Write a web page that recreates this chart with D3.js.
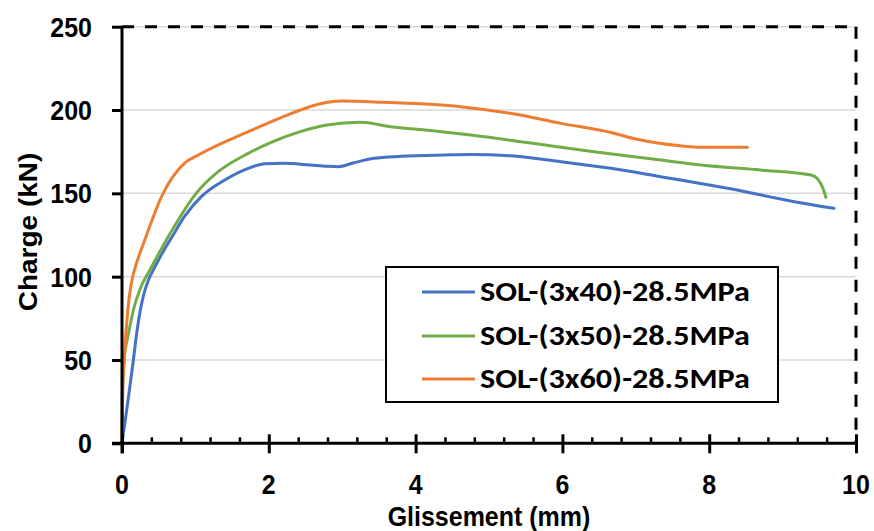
<!DOCTYPE html>
<html>
<head>
<meta charset="utf-8">
<script src="https://cdn.jsdelivr.net/npm/d3@7"></script>
<style>
  html, body { margin: 0; padding: 0; background: #fff; }
  svg { display: block; }
</style>
</head>
<body>
<div id="chart"></div>
<script>
// ---- data ----
const seriesNames = ["SOL-(3x40)-28.5MPa", "SOL-(3x50)-28.5MPa", "SOL-(3x60)-28.5MPa"];

const blueX = [0, 0.08, 0.155, 0.2, 0.25, 0.3, 0.36, 0.45, 0.56, 0.67, 0.85, 1.08, 1.4, 1.72, 1.95, 2.2, 2.56, 2.8, 2.95, 3.15, 3.43, 3.8, 4.4, 4.75, 5.29, 5.98, 6.66, 7.34, 7.61, 8.25, 9.16, 9.7];
const blueY = [0, 25, 50, 66, 80, 90, 98, 106, 115, 123, 136, 148, 158, 165, 167.8, 168, 167, 166.2, 166, 168.2, 171, 172.2, 173, 173.3, 172.5, 169, 165, 160, 158, 153, 145, 141];

const greenX = [0, 0.005, 0.03, 0.09, 0.155, 0.25, 0.38, 0.63, 1.01, 1.31, 1.72, 2.0, 2.43, 2.79, 3.25, 3.66, 4.2, 4.75, 5.52, 6.43, 7.34, 7.89, 8.7, 9.39, 9.48, 9.55, 9.59];
const greenY = [0, 30, 50, 66, 80, 93, 104, 124, 150, 163, 174, 180, 187, 191, 192.6, 190, 187.7, 185, 180.5, 175, 170, 167, 164, 161, 158.5, 153, 147.6];

const orangeX = [0, 0.01, 0.03, 0.08, 0.146, 0.17, 0.31, 0.56, 0.85, 1.04, 1.72, 2.2, 2.43, 2.6, 2.8, 3.0, 3.56, 4.61, 5.29, 5.98, 6.66, 7.0, 7.3, 7.61, 7.9, 8.52];
const orangeY = [0, 30, 50, 80, 100, 104, 122, 150, 168, 173, 187, 196, 200, 202.6, 204.6, 205.4, 204.6, 202, 198, 192, 186.5, 182.6, 180.2, 178.5, 177.7, 177.7];

const xTicks = [0, 2, 4, 6, 8, 10];
const yTicks = [0, 50, 100, 150, 200, 250];
const xTitle = "Glissement (mm)";
const yTitle = "Charge (kN)";

const colors = ["#4472C4", "#70AD47", "#ED7D31"];

// ---- layout ----
const W = 874, H = 531;
const mLeft = 122, mRight = 856, mTop = 26.7, mBottom = 443.3;
const stretch = 1.12;

const svg = d3.select("#chart").append("svg").attr("width", W).attr("height", H);

const x = d3.scaleLinear().domain([0, 10]).range([mLeft, mRight]);
const y = d3.scaleLinear().domain([0, 250]).range([mBottom, mTop]);

// gridlines
svg.append("g").selectAll("line").data(yTicks.filter(d => d > 0)).join("line")
  .attr("x1", mLeft).attr("x2", mRight)
  .attr("y1", d => y(d)).attr("y2", d => y(d))
  .attr("stroke", "#d9d9d9").attr("stroke-width", 1.5);

// dashed frame (top and right)
svg.append("line").attr("x1", mLeft).attr("x2", mRight).attr("y1", y(250)).attr("y2", y(250))
  .attr("stroke", "#000").attr("stroke-width", 3).attr("stroke-dasharray", "12,11");
svg.append("line").attr("x1", mRight).attr("x2", mRight).attr("y1", y(250)).attr("y2", y(0))
  .attr("stroke", "#000").attr("stroke-width", 3).attr("stroke-dasharray", "12,11");

// series
const series = [
  { xs: blueX, ys: blueY },
  { xs: greenX, ys: greenY },
  { xs: orangeX, ys: orangeY }
];
const line = d3.line().x(d => x(d[0])).y(d => y(d[1])).curve(d3.curveMonotoneX);
series.forEach((s, i) => {
  const pts = s.xs.map((v, k) => [v, s.ys[k]]);
  svg.append("path").datum(pts).attr("d", line)
    .attr("fill", "none").attr("stroke", colors[i]).attr("stroke-width", 3)
    .attr("stroke-linejoin", "round").attr("stroke-linecap", "round");
});

// y axis
const yAxis = d3.axisLeft(y).tickValues(yTicks).tickSize(10).tickFormat("");
const gy = svg.append("g").attr("transform", `translate(${mLeft},0)`).call(yAxis);
gy.select(".domain").attr("stroke", "#000").attr("stroke-width", 3).attr("d", `M0,${y(250)}V${y(0) + 10}`);
gy.selectAll(".tick line").attr("stroke", "#000").attr("stroke-width", 3);

// x axis: minor ticks (inward) and major ticks (crossing)
const minorTicks = d3.range(0, 10.001, 0.4).filter(v => Math.abs(v / 2 - Math.round(v / 2)) > 1e-6);
const xAxisMinor = d3.axisTop(x).tickValues(minorTicks).tickSize(6).tickFormat("");
const gxm = svg.append("g").attr("transform", `translate(0,${mBottom})`).call(xAxisMinor);
gxm.select(".domain").remove();
gxm.selectAll(".tick line").attr("stroke", "#000").attr("stroke-width", 2.5);

const xAxis = d3.axisBottom(x).tickValues(xTicks).tickSize(10).tickFormat("");
const gx = svg.append("g").attr("transform", `translate(0,${mBottom})`).call(xAxis);
gx.select(".domain").attr("stroke", "#000").attr("stroke-width", 3).attr("d", `M${mLeft - 10},0H${mRight}`);
gx.selectAll(".tick line").attr("stroke", "#000").attr("stroke-width", 3).attr("y1", -9);

// tick labels
const tickFont = "'Liberation Sans', Arial, sans-serif";
svg.append("g").selectAll("text").data(yTicks).join("text")
  .attr("transform", d => `translate(${92},${y(d) + 10}) scale(1,${stretch})`)
  .attr("text-anchor", "end").attr("font-family", tickFont).attr("font-weight", "bold")
  .attr("font-size", 25).attr("fill", "#000").text(d => d);
svg.append("g").selectAll("text").data(xTicks).join("text")
  .attr("transform", d => `translate(${x(d)},${494}) scale(1,${stretch})`)
  .attr("text-anchor", "middle").attr("font-family", tickFont).attr("font-weight", "bold")
  .attr("font-size", 25).attr("fill", "#000").text(d => d);

// axis titles
svg.append("text")
  .attr("transform", `translate(${(mLeft + mRight) / 2},${526}) scale(1,${stretch})`)
  .attr("text-anchor", "middle").attr("font-family", tickFont).attr("font-weight", "bold")
  .attr("font-size", 25).attr("fill", "#000").text(xTitle);
svg.append("text")
  .attr("transform", `translate(${37},${232}) rotate(-90) scale(${stretch},1)`)
  .attr("text-anchor", "middle").attr("font-family", tickFont).attr("font-weight", "bold")
  .attr("font-size", 25).attr("fill", "#000").text(yTitle);

// legend
const lg = svg.append("g");
lg.append("rect").attr("x", 386).attr("y", 267).attr("width", 392).attr("height", 135)
  .attr("fill", "#fff").attr("stroke", "#000").attr("stroke-width", 2);
const rowY = [292, 336, 379];
seriesNames.forEach((name, i) => {
  lg.append("line").attr("x1", 422).attr("x2", 475).attr("y1", rowY[i]).attr("y2", rowY[i])
    .attr("stroke", colors[i]).attr("stroke-width", 3);
  lg.append("text").attr("x", 480).attr("y", rowY[i] + 9)
    .attr("font-family", "Carlito, Calibri, Lato, sans-serif").attr("font-weight", "bold")
    .attr("font-size", 28.5).attr("textLength", 270).attr("lengthAdjust", "spacingAndGlyphs")
    .attr("fill", "#000").text(name);
});
</script>
</body>
</html>
